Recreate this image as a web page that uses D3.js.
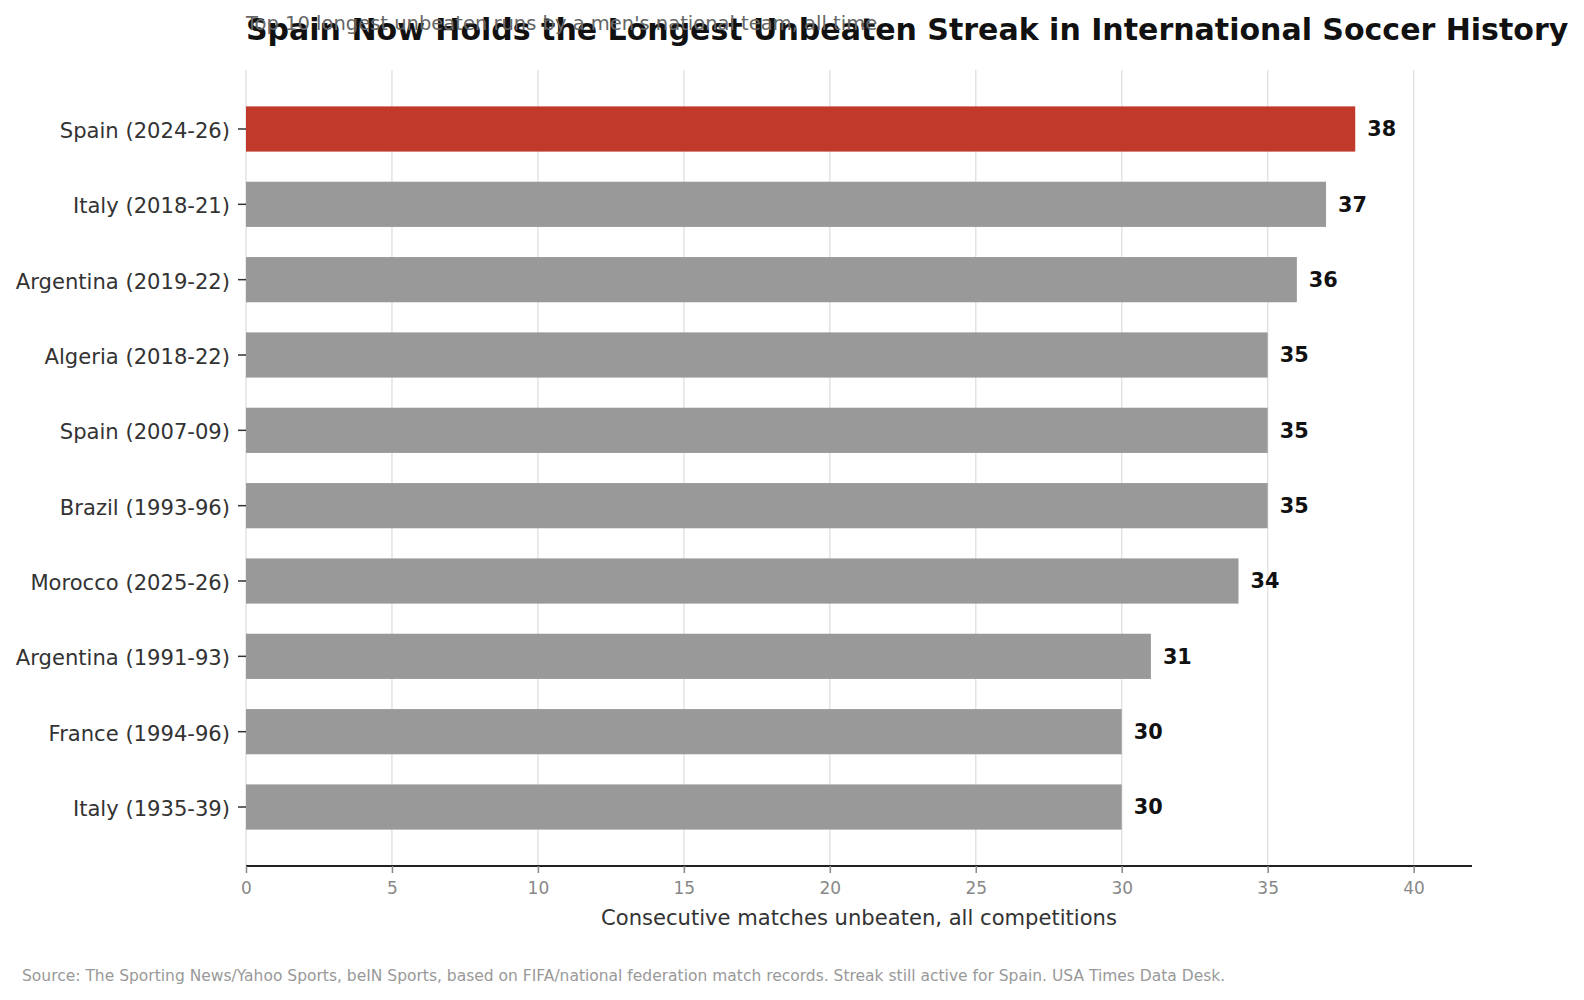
<!DOCTYPE html>
<html>
<head>
<meta charset="utf-8">
<script src="https://cdn.jsdelivr.net/npm/d3@7"></script>
<style>
  body { margin: 0; background: #fff; }
  svg { font-family: "DejaVu Sans", sans-serif; }
</style>
</head>
<body>
<script>
// top 10 unbeaten runs, longest first
const teams = [
  "Spain (2024-26)",
  "Italy (2018-21)",
  "Argentina (2019-22)",
  "Algeria (2018-22)",
  "Spain (2007-09)",
  "Brazil (1993-96)",
  "Morocco (2025-26)",
  "Argentina (1991-93)",
  "France (1994-96)",
  "Italy (1935-39)"
];
const matches = [38, 37, 36, 35, 35, 35, 34, 31, 30, 30];
const xTicks = [0, 5, 10, 15, 20, 25, 30, 35, 40];

const width = 1584, height = 1000;
// plot box (window.top is taken, so plotTop etc.)
const plotLeft = 246, plotRight = 1472, plotTop = 70, plotBottom = 866;

const svg = d3.select("body").append("svg")
  .attr("width", width)
  .attr("height", height);

const x = d3.scaleLinear().domain([0, 42]).range([plotLeft, plotRight]);
const y = d3.scaleBand().domain(teams).range([plotTop, plotBottom])
  .paddingInner(0.4)
  .paddingOuter(0.483);

// grid
svg.append("g")
  .selectAll("line")
  .data(xTicks)
  .join("line")
  .attr("x1", d => x(d))
  .attr("x2", d => x(d))
  .attr("y1", plotTop)
  .attr("y2", plotBottom)
  .attr("stroke", "#e3e3e3")
  .attr("stroke-width", 1.5);

// bars
svg.append("g")
  .selectAll("rect")
  .data(teams)
  .join("rect")
  .attr("x", x(0))
  .attr("y", d => y(d))
  .attr("width", (d, i) => x(matches[i]) - x(0))
  .attr("height", y.bandwidth())
  .attr("fill", (d, i) => i === 0 ? "#c0392b" : "#999999");

// value labels
svg.append("g")
  .selectAll("text")
  .data(teams)
  .join("text")
  .attr("x", (d, i) => x(matches[i]) + 12)
  .attr("y", d => y(d) + y.bandwidth() / 2)
  .attr("dy", "0.36em")
  .style("font-size", "20.8px")
  .style("font-weight", "bold")
  .attr("fill", "#111")
  .text((d, i) => matches[i]);

// x axis
const xAxis = svg.append("g")
  .attr("transform", `translate(0,${plotBottom})`)
  .call(d3.axisBottom(x).tickValues(xTicks).tickSize(7).tickPadding(9));
xAxis.select(".domain")
  .attr("d", `M${plotLeft},0H${plotRight}`)
  .attr("stroke", "#222")
  .attr("stroke-width", 2);
xAxis.selectAll(".tick line").attr("stroke", "#888").attr("stroke-width", 1.5);
xAxis.selectAll(".tick text")
  .attr("fill", "#888")
  .style("font-family", "DejaVu Sans")
  .style("font-size", "17px");

// y axis
const yAxis = svg.append("g")
  .attr("transform", `translate(${plotLeft},0)`)
  .call(d3.axisLeft(y).tickSize(8).tickPadding(8));
yAxis.select(".domain").remove();
yAxis.selectAll(".tick line").attr("stroke", "#333").attr("stroke-width", 1.5);
yAxis.selectAll(".tick text")
  .attr("fill", "#333")
  .attr("dy", "0.42em")
  .style("font-family", "DejaVu Sans")
  .style("font-size", "21.1px");

// axis title
svg.append("text")
  .attr("x", (plotLeft + plotRight) / 2)
  .attr("y", 925)
  .attr("text-anchor", "middle")
  .attr("fill", "#333")
  .style("font-size", "21.1px")
  .text("Consecutive matches unbeaten, all competitions");

// titles
svg.append("text")
  .attr("x", plotLeft)
  .attr("y", 40)
  .attr("fill", "#111")
  .style("font-size", "30px")
  .style("font-weight", "bold")
  .text("Spain Now Holds the Longest Unbeaten Streak in International Soccer History");

svg.append("text")
  .attr("x", plotLeft)
  .attr("y", 30)
  .attr("fill", "#666")
  .style("font-size", "19.5px")
  .text("Top 10 longest unbeaten runs by a men's national team, all time");

// source note
svg.append("text")
  .attr("x", 22)
  .attr("y", 981)
  .attr("fill", "#999")
  .style("font-size", "15.5px")
  .text("Source: The Sporting News/Yahoo Sports, beIN Sports, based on FIFA/national federation match records. Streak still active for Spain. USA Times Data Desk.");
</script>
</body>
</html>
